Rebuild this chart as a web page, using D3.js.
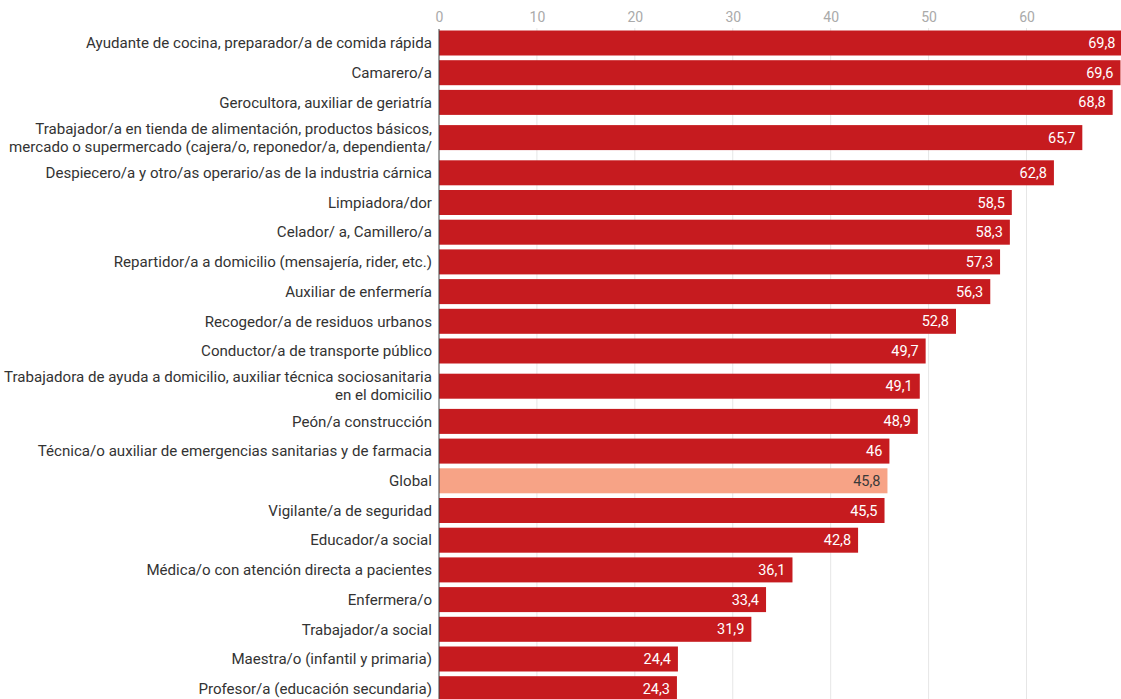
<!DOCTYPE html>
<html>
<head>
<meta charset="utf-8">
<script src="https://cdn.jsdelivr.net/npm/d3@7"></script>
<style>
  html, body { margin: 0; padding: 0; background: #fff; }
  svg { display: block; font-family: Roboto, "Noto Sans", sans-serif; }
</style>
</head>
<body>
<svg id="chart" width="1121" height="699"></svg>
<script>
const categories = [
  ["Ayudante de cocina, preparador/a de comida rápida"],
  ["Camarero/a"],
  ["Gerocultora, auxiliar de geriatría"],
  ["Trabajador/a en tienda de alimentación, productos básicos,", "mercado o supermercado (cajera/o, reponedor/a, dependienta/"],
  ["Despiecero/a y otro/as operario/as de la industria cárnica"],
  ["Limpiadora/dor"],
  ["Celador/ a, Camillero/a"],
  ["Repartidor/a a domicilio (mensajería, rider, etc.)"],
  ["Auxiliar de enfermería"],
  ["Recogedor/a de residuos urbanos"],
  ["Conductor/a de transporte público"],
  ["Trabajadora de ayuda a domicilio, auxiliar técnica sociosanitaria", "en el domicilio"],
  ["Peón/a construcción"],
  ["Técnica/o auxiliar de emergencias sanitarias y de farmacia"],
  ["Global"],
  ["Vigilante/a de seguridad"],
  ["Educador/a social"],
  ["Médica/o con atención directa a pacientes"],
  ["Enfermera/o"],
  ["Trabajador/a social"],
  ["Maestra/o (infantil y primaria)"],
  ["Profesor/a (educación secundaria)"]
];
const values = [69.8, 69.6, 68.8, 65.7, 62.8, 58.5, 58.3, 57.3, 56.3, 52.8, 49.7, 49.1, 48.9, 46, 45.8, 45.5, 42.8, 36.1, 33.4, 31.9, 24.4, 24.3];
const valueLabels = ["69,8","69,6","68,8","65,7","62,8","58,5","58,3","57,3","56,3","52,8","49,7","49,1","48,9","46","45,8","45,5","42,8","36,1","33,4","31,9","24,4","24,3"];
const highlight = ["Global"];
const tickValues = [0, 10, 20, 30, 40, 50, 60];

const svg = d3.select("#chart");
const W = 1121, H = 699;

const x = d3.scaleLinear().domain([0, 60]).range([439, 1026.5]);

// row units: single-line rows = 1, two-line rows taller
const extra = 11 / 29.7;
const units = categories.map(c => c.length > 1 ? 1 + extra : 1);
const starts = [0];
units.forEach((u, i) => starts.push(starts[i] + u));
const totalUnits = starts[starts.length - 1];
const yU = d3.scaleLinear().domain([0, totalUnits]).range([28.15, 28.15 + totalUnits * 29.7]);
const barH = 25;
const centerOf = i => yU(starts[i] + units[i] / 2);

// gridlines + tick labels
const axis = d3.axisTop(x).tickValues(tickValues).tickSize(0).tickPadding(0).tickFormat(d3.format("d"));
const gAxis = svg.append("g").attr("transform", "translate(0,22)").call(axis);
gAxis.select(".domain").remove();
gAxis.selectAll("text").attr("fill", "#aaaaaa").attr("font-size", 14).attr("font-family", "Roboto, sans-serif");

svg.append("g").selectAll("line").data(tickValues.filter(d => d > 0)).join("line")
  .attr("x1", d => x(d)).attr("x2", d => x(d))
  .attr("y1", 28).attr("y2", H)
  .attr("stroke", "#e6e6e6").attr("stroke-width", 1);

// bars
svg.append("g").selectAll("rect").data(values).join("rect")
  .attr("x", x(0))
  .attr("y", (d, i) => centerOf(i) - barH / 2)
  .attr("width", d => x(d) - x(0))
  .attr("height", barH)
  .attr("fill", (d, i) => highlight.includes(categories[i][0]) ? "#f7a386" : "#c61b1f");

// value labels
svg.append("g").selectAll("text").data(values).join("text")
  .attr("x", d => x(d) - 7)
  .attr("y", (d, i) => centerOf(i))
  .attr("dy", "0.35em")
  .attr("text-anchor", "end")
  .attr("font-size", 14.5)
  .attr("fill", (d, i) => highlight.includes(categories[i][0]) ? "#3a3a3a" : "#ffffff")
  .text((d, i) => valueLabels[i]);

// category labels
const lab = svg.append("g").selectAll("text").data(categories).join("text")
  .attr("x", 432)
  .attr("text-anchor", "end")
  .attr("font-size", 15.1)
  .attr("fill", "#333333");
lab.each(function(lines, i) {
  const c = centerOf(i);
  const lh = 18;
  const y0 = c - (lines.length - 1) * lh / 2;
  d3.select(this).selectAll("tspan").data(lines).join("tspan")
    .attr("x", 432)
    .attr("y", (l, j) => y0 + j * lh)
    .attr("dy", "0.35em")
    .text(l => l);
});

// zero baseline
svg.append("line")
  .attr("x1", x(0)).attr("x2", x(0))
  .attr("y1", 29).attr("y2", H)
  .attr("stroke", "#444").attr("stroke-width", 1);
</script>
</body>
</html>
